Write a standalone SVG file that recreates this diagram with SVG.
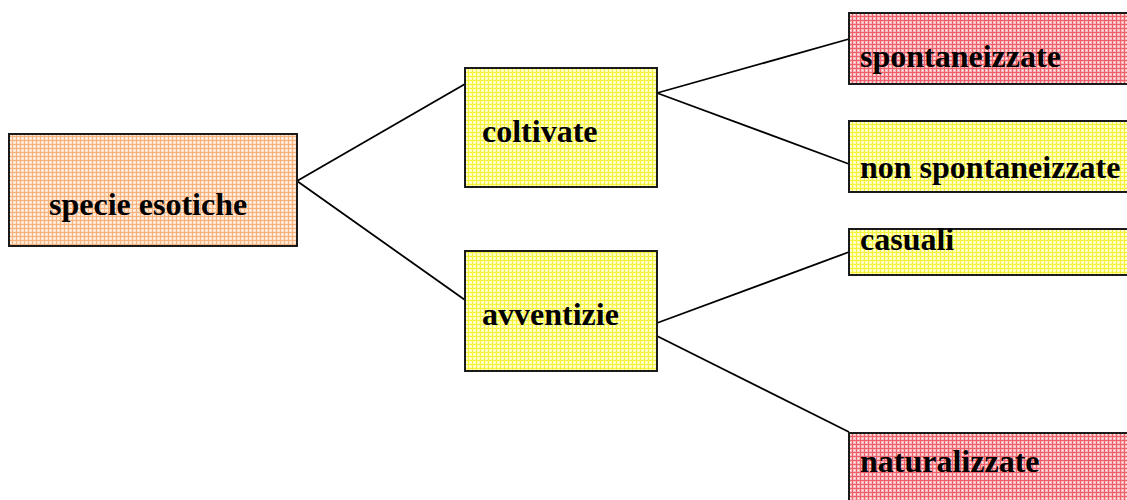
<svg xmlns="http://www.w3.org/2000/svg" width="1127" height="500" viewBox="0 0 1127 500">
<defs>
<pattern id="pOrange" width="4" height="4" patternUnits="userSpaceOnUse">
<rect width="4" height="4" fill="#fde2cc"/>
<rect x="0" y="0" width="4" height="1" fill="#f8b27e"/>
<rect x="0" y="0" width="1" height="4" fill="#f8b27e"/>
<rect x="2" y="2" width="1" height="1" fill="#ffffff"/>
</pattern>
<pattern id="pYellow" width="4" height="4" patternUnits="userSpaceOnUse">
<rect width="4" height="4" fill="#ffffb0"/>
<rect x="0" y="0" width="4" height="1" fill="#f6f040"/>
<rect x="0" y="0" width="1" height="4" fill="#f6f040"/>
<rect x="2" y="2" width="1" height="1" fill="#ffffff"/>
</pattern>
<pattern id="pRed" width="4" height="4" patternUnits="userSpaceOnUse">
<rect width="4" height="4" fill="#f9b8bc"/>
<rect x="0" y="0" width="4" height="1" fill="#f0606a"/>
<rect x="0" y="0" width="1" height="4" fill="#f0606a"/>
<rect x="2" y="2" width="1" height="1" fill="#ffffff"/>
</pattern>
</defs>
<style>
.box{stroke:#1a1a1a;stroke-width:2}
.lbl{font-family:"Liberation Serif","Times New Roman",serif;font-weight:bold;font-size:32px;fill:#000}
.conn line{stroke:#000;stroke-width:1.8}
</style>
<rect width="1127" height="500" fill="#ffffff"/>
<g id="connectors" class="conn">
<line x1="297" y1="181" x2="465" y2="84"/>
<line x1="297" y1="181" x2="465" y2="300"/>
<line x1="657" y1="93" x2="849" y2="39"/>
<line x1="657" y1="93" x2="849" y2="164"/>
<line x1="657" y1="323" x2="849" y2="252"/>
<line x1="657" y1="336" x2="849" y2="432"/>
</g>
<g id="specie-esotiche">
<rect class="box" x="9" y="134" width="288" height="112" fill="url(#pOrange)"/>
<text class="lbl" x="49" y="215">specie esotiche</text>
</g>
<g id="coltivate">
<rect class="box" x="465" y="68" width="192" height="119" fill="url(#pYellow)"/>
<text class="lbl" x="482" y="142">coltivate</text>
</g>
<g id="avventizie">
<rect class="box" x="465" y="251" width="192" height="120" fill="url(#pYellow)"/>
<text class="lbl" x="482" y="325">avventizie</text>
</g>
<g id="spontaneizzate">
<rect class="box" x="849" y="13" width="290" height="71" fill="url(#pRed)"/>
<text class="lbl" x="860" y="67">spontaneizzate</text>
</g>
<g id="non-spontaneizzate">
<rect class="box" x="849" y="121" width="290" height="71" fill="url(#pYellow)"/>
<text class="lbl" x="860" y="178">non spontaneizzate</text>
</g>
<g id="casuali">
<rect class="box" x="849" y="229" width="290" height="46" fill="url(#pYellow)"/>
<text class="lbl" x="860" y="250">casuali</text>
</g>
<g id="naturalizzate">
<rect class="box" x="849" y="433" width="290" height="80" fill="url(#pRed)"/>
<text class="lbl" x="860" y="472">naturalizzate</text>
</g>
</svg>
